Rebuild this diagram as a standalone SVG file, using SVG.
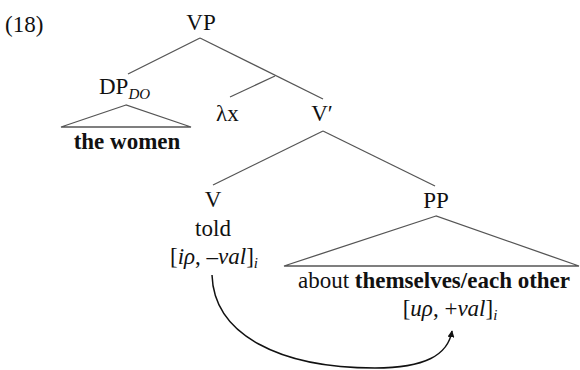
<svg xmlns="http://www.w3.org/2000/svg" width="580" height="370" viewBox="0 0 580 370">
<style>
text{font-family:"Liberation Serif","Times New Roman",serif;font-size:23px;fill:#111}
.c{text-anchor:middle}
.b{font-weight:bold}
.i{font-style:italic}
.sub{font-size:15px;font-style:italic}
.edge{stroke:#555;stroke-width:1.3;fill:none}
.tri{stroke:#555;stroke-width:1.3;fill:none}
.arc{stroke:#111;stroke-width:1.5;fill:none}
</style>
<defs>
<marker id="ah" viewBox="0 0 10 10" refX="9" refY="5" markerWidth="7" markerHeight="7" markerUnits="userSpaceOnUse" orient="auto">
<path d="M0,0 L10,5 L0,10 z" fill="#111"/>
</marker>
</defs>
<text x="5" y="32">(18)</text>
<g id="connectors">
<line class="edge" x1="200" y1="38" x2="128" y2="74"/>
<line class="edge" x1="200" y1="38" x2="323" y2="99"/>
<line class="edge" x1="275" y1="76" x2="230" y2="97"/>
<line class="edge" x1="323" y1="131" x2="213" y2="185"/>
<line class="edge" x1="323" y1="131" x2="435" y2="186"/>
<path class="arc" d="M212,275 C214,335 280,368 375,368 C425,368 448,355 452,331" marker-end="url(#ah)"/>
</g>
<g id="VP"><text class="c" x="201" y="30">VP</text></g>
<g id="DP"><text x="99" y="94">DP<tspan class="sub" dy="5">DO</tspan></text>
<polygon class="tri" points="126,105 61,127 191,127"/>
<text class="c b" x="127" y="149">the women</text></g>
<g id="lambda"><text x="216" y="121">λx</text></g>
<g id="Vbar"><text class="c" x="322" y="121">V′</text></g>
<g id="V"><text class="c" x="213" y="207">V</text>
<text class="c" x="213" y="236">told</text>
<text class="c" x="214" y="264">[<tspan class="i">iρ</tspan>, –<tspan class="i">val</tspan>]<tspan class="sub" dy="4">i</tspan></text></g>
<g id="PP"><text class="c" x="436" y="208">PP</text>
<polygon class="tri" points="436,216 284,266 579,266"/>
<text class="c" x="434" y="288">about <tspan class="b">themselves/each other</tspan></text>
<text class="c" x="450" y="316">[<tspan class="i">uρ</tspan>, +<tspan class="i">val</tspan>]<tspan class="sub" dy="4">i</tspan></text></g>
</svg>
